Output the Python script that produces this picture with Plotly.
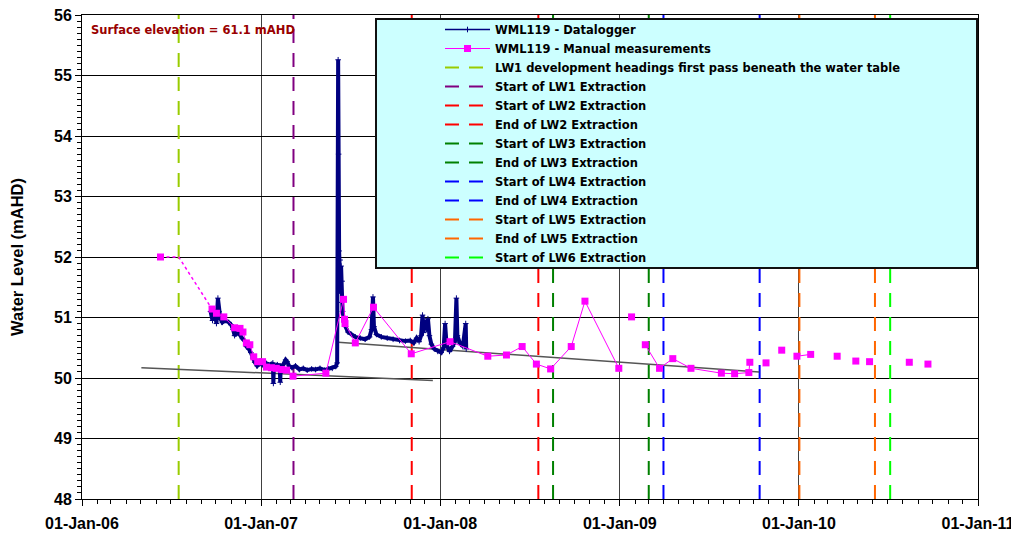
import plotly.graph_objects as go

# ---------------- data ----------------
logger_dates = [
    "2006-09-20", "2006-09-24", "2006-09-28", "2006-10-02", "2006-10-05", "2006-10-07",
    "2006-10-10", "2006-10-14", "2006-10-20", "2006-10-27", "2006-11-01", "2006-11-05",
    "2006-11-08", "2006-11-13", "2006-11-18", "2006-11-24", "2006-11-28", "2006-12-02",
    "2006-12-07", "2006-12-11", "2006-12-15", "2006-12-19", "2006-12-24", "2006-12-29",
    "2007-01-05", "2007-01-12", "2007-01-20", "2007-01-25", "2007-01-26", "2007-01-27",
    "2007-02-03", "2007-02-08", "2007-02-09", "2007-02-10", "2007-02-15", "2007-02-20",
    "2007-02-23", "2007-02-27", "2007-03-05", "2007-03-12", "2007-03-20", "2007-03-28",
    "2007-04-05", "2007-04-14", "2007-04-22", "2007-05-01", "2007-05-10", "2007-05-18",
    "2007-05-26", "2007-06-02", "2007-06-05", "2007-06-07", "2007-06-08", "2007-06-09",
    "2007-06-10", "2007-06-11", "2007-06-12", "2007-06-13", "2007-06-14", "2007-06-15",
    "2007-06-16", "2007-06-18", "2007-06-22", "2007-06-27", "2007-07-04", "2007-07-12",
    "2007-07-22", "2007-08-01", "2007-08-10", "2007-08-14", "2007-08-17", "2007-08-19",
    "2007-08-24", "2007-09-03", "2007-09-15", "2007-09-27", "2007-10-10", "2007-10-22",
    "2007-11-01", "2007-11-08", "2007-11-14", "2007-11-19", "2007-11-23", "2007-11-26",
    "2007-11-28", "2007-12-01", "2007-12-04", "2007-12-07", "2007-12-10", "2007-12-14",
    "2007-12-20", "2007-12-27", "2008-01-03", "2008-01-08", "2008-01-11", "2008-01-14",
    "2008-01-20", "2008-01-26", "2008-01-31", "2008-02-03", "2008-02-05", "2008-02-10",
    "2008-02-16", "2008-02-22", "2008-02-23",
]
logger_levels = [
    51.10, 50.95, 51.12, 50.90, 51.32, 51.10,
    50.98, 50.92, 50.95, 50.92, 50.88, 50.80,
    50.70, 50.75, 50.72, 50.65, 50.62, 50.52,
    50.48, 50.42, 50.33, 50.26, 50.20, 50.24,
    50.21, 50.24, 50.22, 50.25, 49.91, 50.20,
    50.22, 50.20, 49.93, 50.20, 50.22, 50.30,
    50.27, 50.20, 50.17, 50.20, 50.14, 50.16,
    50.13, 50.15, 50.14, 50.16, 50.13, 50.15,
    50.16, 50.19, 50.25, 55.26, 53.70, 52.10,
    51.70, 51.95, 51.40, 51.85, 51.25, 51.60,
    51.10, 51.00, 50.85, 50.76, 50.72, 50.68,
    50.66, 50.64, 50.68, 50.80, 51.34, 50.85,
    50.72, 50.68, 50.66, 50.64, 50.62, 50.61,
    50.62, 50.58, 50.66, 50.60, 50.70, 51.04,
    50.75, 50.95, 50.80, 50.98, 50.70, 50.56,
    50.48, 50.44, 50.42, 50.50, 50.90, 50.55,
    50.44, 50.52, 50.60, 51.32, 50.70, 50.58,
    50.52, 50.90, 50.48,
]

# manual measurements (None = break in the line)
manual_dates = [
    "2006-06-10", None,
    "2006-09-23", "2006-10-02", "2006-10-17", "2006-11-08", "2006-11-19", "2006-11-25",
    "2006-12-02", "2006-12-09", "2006-12-17", "2006-12-25", "2007-01-04", "2007-01-12",
    "2007-01-22", "2007-02-01", "2007-02-12", "2007-02-22", "2007-03-07", "2007-05-13",
    "2007-06-18", "2007-06-20", "2007-06-21", "2007-07-12", "2007-08-18", "2007-11-03",
    "2008-01-21", "2008-04-07", "2008-05-15", "2008-06-16", "2008-07-15", "2008-08-13",
    "2008-09-24", "2008-10-22", "2008-12-30", None,
    "2009-01-25", None,
    "2009-02-22", "2009-03-23", "2009-04-19", "2009-05-26", "2009-07-27", "2009-08-23",
    "2009-09-21", "2009-09-23", None,
    "2009-10-26", None,
    "2009-11-27", None,
    "2009-12-28", "2010-01-25", None,
    "2010-03-20", None,
    "2010-04-27", None,
    "2010-05-25", None,
    "2010-08-14", None,
    "2010-09-21",
]
manual_levels = [
    52.00, None,
    51.14, 51.07, 51.01, 50.83, 50.82, 50.76,
    50.58, 50.55, 50.35, 50.27, 50.27, 50.18,
    50.17, 50.16, 50.14, 50.13, 50.03, 50.08,
    51.30, 50.97, 50.90, 50.58, 51.17, 50.40,
    50.60, 50.36, 50.38, 50.52, 50.23, 50.15,
    50.52, 51.27, 50.16, None,
    51.01, None,
    50.55, 50.16, 50.32, 50.16, 50.08, 50.07,
    50.09, 50.26, None,
    50.25, None,
    50.46, None,
    50.36, 50.39, None,
    50.36, None,
    50.28, None,
    50.27, None,
    50.26, None,
    50.23,
]

# dotted link between the first manual reading and the series
link_dates = ["2006-06-10", "2006-07-17", "2006-09-23"]
link_levels = [52.00, 52.00, 51.14]

# trend lines
trend1_dates = ["2006-05-02", "2007-12-17"]
trend1_levels = [50.17, 49.96]
trend2_dates = ["2007-06-07", "2009-10-12"]
trend2_levels = [50.59, 50.10]

# mining events
event_names = [
    "LW1 development headings first pass beneath the water table",
    "Start of LW1 Extraction",
    "Start of LW2 Extraction",
    "End of LW2 Extraction",
    "Start of LW3 Extraction",
    "End of LW3 Extraction",
    "Start of LW4 Extraction",
    "End of LW4 Extraction",
    "Start of LW5 Extraction",
    "End of LW5 Extraction",
    "Start of LW6 Extraction",
]
event_dates = [
    "2006-07-17", "2007-03-08", "2007-11-04", "2008-07-19", "2008-08-18",
    "2009-03-01", "2009-03-31", "2009-10-13", "2010-01-02", "2010-06-05", "2010-07-06",
]
event_colors = [
    "#99CC00", "#800080", "#FF0000", "#FF0000", "#008000",
    "#008000", "#0000FF", "#0000FF", "#FF6600", "#FF6600", "#00FF00",
]

y_min, y_max = 48, 56

# ---------------- figure ----------------
fig = go.Figure()

for i, (name, d, c) in enumerate(zip(event_names, event_dates, event_colors)):
    fig.add_trace(go.Scatter(
        x=[d, d], y=[y_min, y_max], mode="lines", name=name,
        line=dict(color=c, width=2, dash="14px,10px"),
        legendrank=10 + i, hoverinfo="skip",
    ))

for xs, ys in [(trend1_dates, trend1_levels), (trend2_dates, trend2_levels)]:
    fig.add_trace(go.Scatter(
        x=xs, y=ys, mode="lines", showlegend=False,
        line=dict(color="#555555", width=1.5),
    ))

# thick noisy band of the logger record
fig.add_trace(go.Scatter(
    x=logger_dates, y=logger_levels, mode="lines", showlegend=False,
    line=dict(color="#000080", width=4),
))
fig.add_trace(go.Scatter(
    x=logger_dates, y=logger_levels, mode="lines+markers",
    name="WML119 - Datalogger", legendrank=1,
    line=dict(color="#000080", width=1.5),
    marker=dict(symbol="cross-thin", size=4, color="#000080",
                line=dict(color="#000080", width=1)),
))

fig.add_trace(go.Scatter(
    x=link_dates, y=link_levels, mode="lines", showlegend=False,
    line=dict(color="#FF00FF", width=1.5, dash="dot"),
))

fig.add_trace(go.Scatter(
    x=manual_dates, y=manual_levels, mode="lines+markers",
    name="WML119 - Manual measurements", legendrank=2,
    line=dict(color="#FF00FF", width=1),
    marker=dict(symbol="square", size=7, color="#FF00FF"),
    connectgaps=False,
))

# The page body adds an 8 px offset, so the figure is built 8 px smaller
OFF = 8
FIG_W, FIG_H = 1019 - OFF, 535 - OFF
# target plot area in window pixels: left 82, right 978, top 15, bottom 499
L, R, T, B = 82, 978, 15, 499
W, H = R - L, B - T


def px_x(x):
    return (x - L) / W


def px_y(y):
    return (B - y) / H


fig.add_shape(type="rect", xref="paper", yref="paper",
              x0=px_x(376), x1=px_x(977), y0=px_y(268), y1=px_y(19),
              fillcolor="#CCFFFF", line=dict(color="#111111", width=2),
              layer="above")

fig.add_annotation(xref="paper", yref="paper", x=px_x(89), y=px_y(30),
                   xanchor="left", yanchor="middle", showarrow=False,
                   text="Surface elevation = 61.1 mAHD",
                   font=dict(family="DejaVu Sans", size=11.5, color="#990000",
                             weight="bold"))

tick_font = dict(family="Liberation Sans, Arial", size=16, color="black", weight="bold")

fig.update_layout(
    width=FIG_W, height=FIG_H,
    margin=dict(l=L - OFF, r=FIG_W + OFF - R, t=T - OFF, b=FIG_H + OFF - B,
                autoexpand=False),
    paper_bgcolor="white", plot_bgcolor="white",
    showlegend=True,
    legend=dict(
        x=px_x(440), y=px_y(15), xanchor="left", yanchor="top",
        bgcolor="rgba(0,0,0,0)", borderwidth=0,
        font=dict(family="DejaVu Sans", size=11.5, color="black", weight="bold"),
        itemwidth=45, tracegroupgap=0,
    ),
    xaxis=dict(
        type="date", range=["2006-01-01", "2011-01-01"],
        tick0="2006-01-01", dtick="M12", tickformat="%d-%b-%y",
        showgrid=True, gridcolor="#404040", gridwidth=1,
        ticks="outside", ticklen=6, tickcolor="black",
        showline=True, linecolor="black", linewidth=1, mirror=True,
        minor=dict(dtick="M1", ticks="outside", ticklen=4, tickcolor="black", showgrid=False),
        tickfont=tick_font, ticklabelstandoff=4, zeroline=False, automargin=False,
        ticklabeloverflow="allow",
    ),
    yaxis=dict(
        range=[y_min, y_max], dtick=1, tick0=48,
        showgrid=True, gridcolor="black", gridwidth=1,
        ticks="outside", ticklen=6, tickcolor="black",
        showline=True, linecolor="black", linewidth=1, mirror=True,
        minor=dict(dtick=0.1, ticks="outside", ticklen=4, tickcolor="black", showgrid=False),
        tickfont=tick_font, zeroline=False, automargin=False,
        ticklabeloverflow="allow",
        title=dict(text="Water Level (mAHD)", standoff=26,
                   font=dict(family="Liberation Sans, Arial", size=16.5, color="black",
                             weight="bold")),
    ),
)

fig.write_html("out.html")
